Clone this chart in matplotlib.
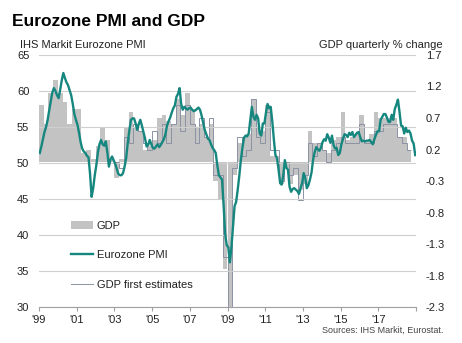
import numpy as np
import matplotlib
matplotlib.use("Agg")
import matplotlib.pyplot as plt
from matplotlib.patches import Patch
from matplotlib.lines import Line2D

plt.rcParams["font.family"] = ["Liberation Sans", "DejaVu Sans"]
plt.rcParams["axes.unicode_minus"] = False

# Eurozone composite PMI, monthly, Jan 1999 - Dec 2018
pmi = [
    51.4, 52.3, 53.3, 54.3, 55.0, 56.0, 57.3, 58.6, 59.8, 60.4, 60.0, 59.4,
    59.0, 60.2, 61.5, 62.5, 61.8, 61.2, 60.8, 60.1, 59.4, 58.2, 56.8, 56.0,
    55.3, 54.2, 52.9, 52.0, 51.6, 51.4, 51.0, 50.8, 48.5, 45.3, 46.5, 48.3,
    49.7, 51.5, 52.6, 53.2, 52.6, 52.4, 53.0, 51.5, 49.5, 50.5, 50.9, 50.4,
    49.9, 49.2, 48.5, 48.3, 48.3, 48.6, 49.5, 50.7, 52.8, 54.5, 56.0, 56.2,
    56.2, 55.5, 54.6, 55.4, 56.0, 55.2, 54.3, 53.4, 52.3, 52.5, 53.2, 52.6,
    52.1, 52.0, 52.3, 52.6, 52.2, 52.5, 52.9, 53.3, 54.0, 55.2, 55.8, 56.3,
    57.0, 57.6, 58.0, 59.2, 59.6, 60.4, 58.2, 57.4, 57.8, 57.6, 57.4, 57.6,
    57.7, 57.4, 57.2, 57.3, 57.5, 57.7, 57.4, 56.6, 55.6, 54.6, 54.0, 53.4,
    53.2, 52.6, 52.1, 51.8, 51.4, 49.7, 48.3, 48.0, 47.7, 44.2, 40.2, 38.6,
    38.3, 36.2, 38.3, 41.1, 44.0, 44.6, 46.3, 48.2, 50.4, 52.1, 53.5, 53.8,
    53.7, 54.1, 55.9, 57.8, 56.4, 56.0, 56.7, 56.2, 54.1, 53.8, 55.5, 55.5,
    57.0, 58.2, 57.6, 57.8, 55.8, 53.3, 51.1, 50.7, 49.1, 47.2, 47.0, 48.3,
    50.4, 49.3, 49.1, 46.7, 46.0, 46.4, 46.5, 46.3, 46.1, 45.7, 46.5, 47.2,
    48.6, 47.9, 46.5, 46.9, 47.7, 48.7, 50.5, 51.5, 52.2, 51.9, 51.7, 52.1,
    52.9, 53.3, 53.1, 54.0, 53.5, 52.8, 53.8, 52.5, 52.0, 52.1, 51.1, 51.4,
    52.6, 53.3, 54.0, 53.9, 53.6, 54.2, 53.9, 54.3, 53.6, 53.9, 54.2, 54.3,
    53.6, 53.0, 53.1, 53.0, 53.1, 53.1, 53.2, 52.9, 52.6, 53.3, 53.9, 54.4,
    54.4, 56.0, 56.4, 56.8, 56.8, 56.3, 55.7, 55.7, 56.7, 56.0, 57.5, 58.1,
    58.8, 57.1, 55.2, 55.1, 54.1, 54.9, 54.3, 54.5, 54.1, 53.1, 52.7, 51.1,
]

# GDP quarterly % change (latest vintage), 1999Q1 - 2018Q3
gdp = [
    0.9, 0.6, 1.1, 1.3,
    1.1, 0.95, 0.6, 0.85,
    0.85, 0.15, 0.2, 0.05,
    0.25, 0.55, 0.35, 0.05,
    -0.25, 0.05, 0.55, 0.8,
    0.55, 0.5, 0.2, 0.25,
    0.35, 0.7, 0.75, 0.65,
    0.6, 1.0, 0.75, 1.1,
    0.85, 0.55, 0.6, 0.4,
    0.6, -0.3, -0.6, -1.7,
    -3.1, -0.2, 0.3, 0.4,
    0.45, 1.0, 0.55, 0.5,
    0.9, 0.1, 0.1, -0.35,
    -0.1, -0.35, -0.2, -0.45,
    -0.35, 0.5, 0.3, 0.3,
    0.2, 0.15, 0.35, 0.4,
    0.8, 0.35, 0.4, 0.45,
    0.75, 0.35, 0.45, 0.8,
    0.7, 0.7, 0.7, 0.7,
    0.4, 0.4, 0.2,
]

# GDP first estimates, 2003Q1 - 2018Q3
gdp_first = [
    0.0, -0.1, 0.4, 0.3,
    0.6, 0.5, 0.3, 0.2,
    0.5, 0.3, 0.6, 0.3,
    0.6, 0.9, 0.5, 0.9,
    0.6, 0.3, 0.7, 0.4,
    0.7, -0.2, -0.2, -1.5,
    -2.5, -0.1, 0.4, 0.1,
    0.2, 1.0, 0.4, 0.3,
    0.8, 0.2, 0.2, -0.3,
    0.0, -0.2, -0.1, -0.6,
    -0.2, 0.3, 0.1, 0.3,
    0.2, 0.0, 0.2, 0.3,
    0.4, 0.3, 0.3, 0.3,
    0.6, 0.3, 0.3, 0.5,
    0.5, 0.6, 0.6, 0.6,
    0.4, 0.3, 0.2,
]

year_ticks = list(range(1999, 2020, 2))
year_labels = ["'99", "'01", "'03", "'05", "'07", "'09", "'11", "'13", "'15", "'17", ""]
pmi_ticks = list(range(30, 66, 5))
gdp_ticks = [-2.3, -1.8, -1.3, -0.8, -0.3, 0.2, 0.7, 1.2, 1.7]

teal = "#16877f"
bar_gray = "#c3c3c3"
est_color = "#8a92a4"
text_col = "#222222"

months = 1999 + (np.arange(len(pmi)) + 0.5) / 12
quarters = 1999 + np.arange(len(gdp)) * 0.25
first_edges = 2003 + np.arange(len(gdp_first) + 1) * 0.25

fig = plt.figure(figsize=(4.62, 3.43), dpi=100)
ax = fig.add_axes([39 / 462, 1 - 307 / 343, 377 / 462, 252 / 343])
ax2 = ax.twinx()
ax.set_zorder(ax2.get_zorder() + 1)
ax.patch.set_visible(False)

# GDP on the right-hand scale
ax2.bar(quarters, gdp, width=0.25, align="edge", color=bar_gray, linewidth=0)
ax2.stairs(gdp_first, first_edges, baseline=None, color=est_color, linewidth=0.7)

# PMI on the left-hand scale
ax.plot(months, pmi, color=teal, linewidth=1.7)

ax.set_xlim(1999, 2019)
ax.set_ylim(30, 65)
ax2.set_ylim(-2.3, 1.7)

ax.set_yticks(pmi_ticks)
ax2.set_yticks(gdp_ticks)
ax2.set_yticklabels([f"{v:.1f}" for v in gdp_ticks])
ax.set_xticks(year_ticks)
ax.set_xticklabels(year_labels)

ax.grid(axis="y", color="#cfcfcf", linewidth=0.8)
for s in ["top", "left", "right"]:
    ax.spines[s].set_visible(False)
for s in ax2.spines.values():
    s.set_visible(False)
ax.spines["bottom"].set_color("#a0a0a0")
ax.spines["bottom"].set_linewidth(0.8)

ax.tick_params(axis="y", length=0, pad=7, labelsize=8, labelcolor=text_col)
ax2.tick_params(axis="y", length=0, pad=7, labelsize=8, labelcolor=text_col)
ax.tick_params(axis="x", length=3, width=0.8, color="#a0a0a0", pad=3,
               labelsize=8, labelcolor=text_col)

handles = [
    Patch(facecolor=bar_gray, edgecolor="none"),
    Line2D([], [], color=teal, linewidth=1.7),
    Line2D([], [], color=est_color, linewidth=0.7),
]
ax.legend(handles, ["GDP", "Eurozone PMI", "GDP first estimates"],
          loc="upper left", bbox_to_anchor=(0.085, 0.343), frameon=False,
          borderpad=0, borderaxespad=0, handlelength=2.0, handletextpad=0.3,
          labelspacing=1.78, fontsize=8, labelcolor=text_col)

fig.text(12 / 462, 1 - 26 / 343, "Eurozone PMI and GDP", fontsize=12.5,
         fontweight="bold", va="baseline", color="black")
fig.text(20 / 462, 1 - 47.5 / 343, "IHS Markit Eurozone PMI", fontsize=8,
         va="baseline", color=text_col)
fig.text(443 / 462, 1 - 47.5 / 343, "GDP quarterly % change", fontsize=8,
         va="baseline", ha="right", color=text_col)
fig.text(443 / 462, 1 - 333 / 343, "Sources: IHS Markit, Eurostat.",
         fontsize=6.5, va="baseline", ha="right", color="#444444")

fig.savefig("out.png", dpi=100)
